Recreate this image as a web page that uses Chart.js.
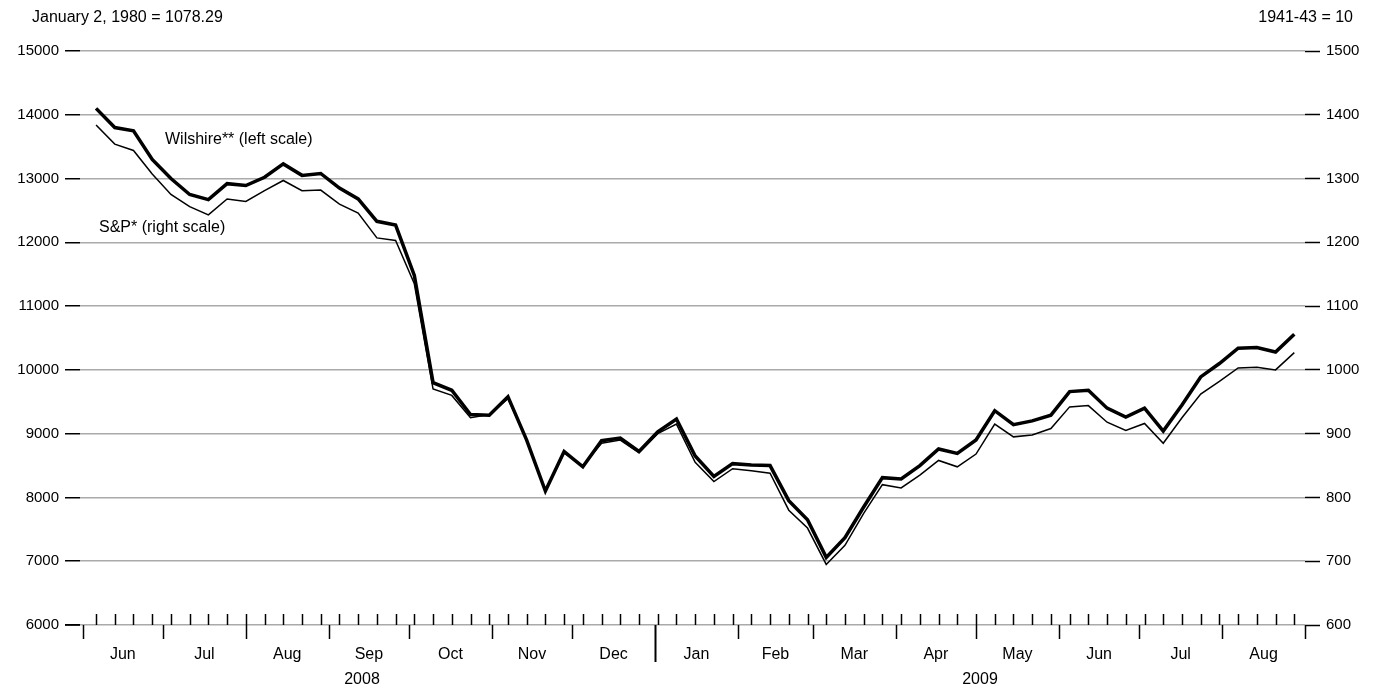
<!DOCTYPE html>
<html><head><meta charset="utf-8">
<script src="https://cdn.jsdelivr.net/npm/chart.js@4"></script>
<style>html,body{margin:0;padding:0;background:#fff}#w{width:1385px;height:690px}</style>
</head><body><div id="w"><canvas id="c"></canvas></div>
<script>
// weekly Friday closes starting 2008-06-06
const startDate = [2008, 5, 6];
const wilshire = [14100,13800,13750,13300,13000,12750,12670,12920,12890,13020,13230,13050,13080,12850,12680,12330,12270,11480,
 9800,9680,9300,9290,9580,8900,8100,8720,8480,8890,8930,8720,9030,9230,8650,8330,8530,8510,8500,7950,7650,7060,7370,7850,8310,8290,8500,8760,8690,8900,9360,9140,9200,9290,9660,9680,9400,9260,9400,9040,9450,9890,10100,10340,10350,10280,10560];
const sp = [1384,1354,1344,1307,1275,1256,1243,1268,1264,1281,1297,1281,1282,1260,1246,1207,1203,1135,
 970,960,925,930,955,890,810,870,850,885,890,870,900,915,855,825,845,842,838,780,752,695,725,775,820,815,835,858,848,868,915,895,898,908,942,944,918,905,916,885,925,962,982,1003,1004,1000,1027];
const monthLabels = ['Jun','Jul','Aug','Sep','Oct','Nov','Dec','Jan','Feb','Mar','Apr','May','Jun','Jul','Aug'];
const yearLabels = ['2008','2009'];
const leftTicks = [6000,7000,8000,9000,10000,11000,12000,13000,14000,15000];

const t0 = Date.UTC(...startDate);
const dayOf = (y,m,d)=> (Date.UTC(y,m,d)-t0)/864e5;
const monthStarts = [];
for (let k=0;k<=15;k++){ const y=2008+Math.floor((5+k)/12), m=(5+k)%12; monthStarts.push(dayOf(y,m,1)); }
const FONT = '"Liberation Sans", Arial, sans-serif';

const deco = {
  id:'deco',
  afterDraw(ch){
    const c=ch.ctx, x=ch.scales.x, a=ch.chartArea, b=a.bottom;
    c.save();
    c.strokeStyle='#000'; c.lineWidth=1.5;
    for(let i=0;i<wilshire.length;i++){const px=Math.round(x.getPixelForValue(i*7))+0.5;c.beginPath();c.moveTo(px,b);c.lineTo(px,b-11);c.stroke();}
    monthStarts.forEach((d,k)=>{const px=Math.round(x.getPixelForValue(d))+0.5;const len=(k===7)?37:14;c.lineWidth=k===7?2:1.5;c.beginPath();c.moveTo(px,b);c.lineTo(px,b+len);c.stroke();});
    c.beginPath();c.moveTo(a.left-15,b);c.lineTo(a.left,b);c.stroke();
    c.fillStyle='#000'; c.font='16px '+FONT; c.textAlign='center'; c.textBaseline='middle';
    monthLabels.forEach((l,k)=>{const p=(x.getPixelForValue(monthStarts[k])+x.getPixelForValue(monthStarts[k+1]))/2;c.fillText(l,p,b+30);});
    c.fillText(yearLabels[0],362,b+55); c.fillText(yearLabels[1],980,b+55);
    c.textAlign='left'; c.fillText('January 2, 1980 = 1078.29',32,18);
    c.textAlign='right'; c.fillText('1941-43 = 10',1353,18);
    c.textAlign='left';
    c.fillText('Wilshire** (left scale)',165,140);
    c.fillText('S&P* (right scale)',99,228);
    c.restore();
  }
};

new Chart(document.getElementById('c'),{
  type:'line',
  data:{datasets:[
    {label:'Wilshire',data:wilshire.map((v,i)=>({x:i*7,y:v})),yAxisID:'y',borderColor:'#000',borderWidth:3.5,pointRadius:0,tension:0},
    {label:'S&P',data:sp.map((v,i)=>({x:i*7,y:v})),yAxisID:'y2',borderColor:'#000',borderWidth:1.5,pointRadius:0,tension:0}
  ]},
  options:{
    responsive:true,maintainAspectRatio:false,animation:false,
    layout:{padding:{top:51,left:0,right:0,bottom:0}},
    plugins:{legend:{display:false},tooltip:{enabled:false}},
    scales:{
      x:{type:'linear',min:-6,max:452,grid:{display:false},border:{display:false},ticks:{display:false},afterFit(s){s.height=65;}},
      y:{position:'left',min:6000,max:15000,afterBuildTicks(s){s.ticks=leftTicks.map(v=>({value:v}));},
         grid:{color:'#aaa',lineWidth:1.5,tickColor:'#000',tickLength:15,tickWidth:1.5},border:{display:false},
         ticks:{color:'#000',font:{family:FONT,size:15},padding:6,callback:v=>String(v)},afterFit(s){s.width=80;}},
      y2:{position:'right',min:600,max:1500,afterBuildTicks(s){s.ticks=leftTicks.map(v=>({value:v/10}));},
         grid:{drawOnChartArea:false,tickColor:'#000',tickLength:15,tickWidth:1.5},border:{display:false},
         ticks:{color:'#000',font:{family:FONT,size:15},padding:6,callback:v=>String(v)},afterFit(s){s.width=80;}}
    }
  },
  plugins:[deco]
});
</script></body></html>
